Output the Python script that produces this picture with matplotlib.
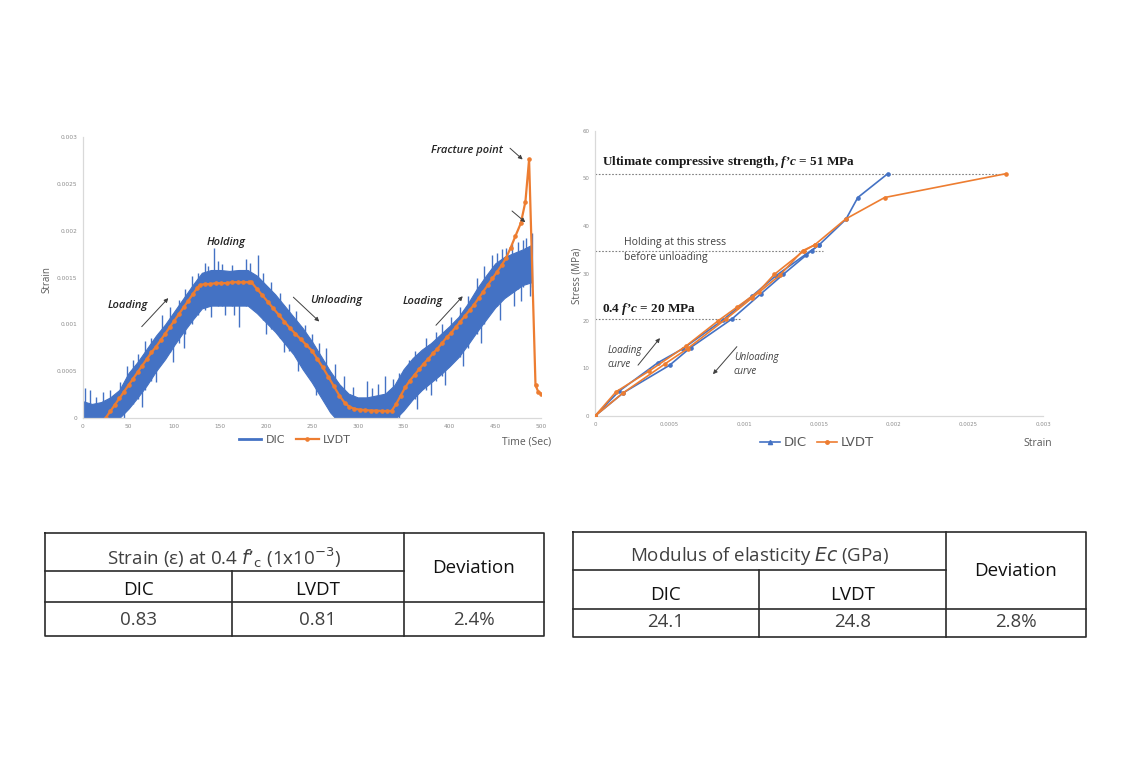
import numpy as np
import matplotlib
matplotlib.use("Agg")
import matplotlib.pyplot as plt
from matplotlib.lines import Line2D

plt.rcParams['mathtext.fontset'] = 'custom'
plt.rcParams['mathtext.rm'] = 'Liberation Serif:bold'
plt.rcParams['mathtext.it'] = 'Liberation Serif:italic:bold'

W, H = 1122, 774
BLUE = '#4472C4'
ORANGE = '#ED7D31'

# ---------------- left chart: strain vs time ----------------
# LVDT readings (time in s, strain in 1e-3)
lvdt_t = [25, 30, 35, 40, 45, 50, 55, 60, 65, 70, 75, 80, 85, 90, 95, 100, 105, 110, 115, 120, 125, 128,
          133, 139, 145, 151, 157, 163, 169, 175, 181, 184,
          190, 196, 202, 208, 214, 220, 226, 232, 238, 244, 250, 256, 262, 268, 274, 280, 286, 291,
          296, 302, 308, 314, 320, 326, 332, 337,
          342, 347, 352, 357, 362, 367, 372, 377, 382, 387, 392, 397, 402, 407, 412, 417, 422, 427,
          432, 437, 442, 447, 452, 457, 462, 467, 472, 478, 483, 487,
          494, 497, 500, 504]
lvdt_s = [0.00, 0.07, 0.14, 0.21, 0.28, 0.35, 0.42, 0.49, 0.56, 0.63, 0.70, 0.76, 0.83, 0.90, 0.97, 1.04, 1.11, 1.18, 1.25, 1.32, 1.39, 1.42,
          1.43, 1.43, 1.44, 1.44, 1.44, 1.45, 1.45, 1.45, 1.45, 1.45,
          1.38, 1.31, 1.24, 1.17, 1.10, 1.03, 0.96, 0.90, 0.84, 0.78, 0.72, 0.63, 0.54, 0.44, 0.34, 0.24, 0.16, 0.12,
          0.10, 0.09, 0.085, 0.08, 0.08, 0.075, 0.075, 0.075,
          0.15, 0.24, 0.33, 0.40, 0.46, 0.52, 0.58, 0.63, 0.69, 0.74, 0.80, 0.86, 0.91, 0.97, 1.03, 1.09, 1.15, 1.21,
          1.28, 1.35, 1.42, 1.49, 1.56, 1.63, 1.71, 1.82, 1.94, 2.08, 2.31, 2.76,
          0.35, 0.28, 0.26, 0.25]

# DIC noisy band: envelope read every 10 s (strain in 1e-3)
dic_t = [0, 10, 20, 30, 40, 50, 60, 70, 80, 90, 100, 110, 120, 130, 140, 150, 160, 170, 180,
         190, 200, 210, 220, 230, 240, 250, 260, 270, 280, 290, 300, 310, 320, 330, 340,
         350, 360, 370, 380, 390, 400, 410, 420, 430, 440, 450, 460, 470, 480, 490]
dic_lo = [-0.05, -0.05, -0.05, -0.05, 0.00, 0.10, 0.22, 0.35, 0.50, 0.63, 0.78, 0.92, 1.05, 1.17, 1.20, 1.20, 1.20, 1.20, 1.20,
          1.12, 1.02, 0.92, 0.80, 0.68, 0.52, 0.38, 0.22, 0.06, -0.05, -0.05, -0.05, -0.05, -0.05, -0.05, -0.02,
          0.08, 0.20, 0.30, 0.38, 0.46, 0.55, 0.65, 0.78, 0.92, 1.05, 1.18, 1.28, 1.35, 1.42, 1.45]
dic_hi = [0.18, 0.15, 0.17, 0.22, 0.30, 0.48, 0.60, 0.74, 0.88, 1.00, 1.14, 1.28, 1.42, 1.55, 1.58, 1.58, 1.57, 1.58, 1.58,
          1.52, 1.42, 1.32, 1.20, 1.08, 0.96, 0.82, 0.66, 0.50, 0.36, 0.26, 0.22, 0.22, 0.24, 0.26, 0.35,
          0.52, 0.64, 0.73, 0.80, 0.89, 0.98, 1.08, 1.22, 1.38, 1.52, 1.65, 1.72, 1.76, 1.80, 1.85]
# single DIC spikes sticking out of the band (time, low, high)
spike_t = [2, 8, 15, 22, 30, 41, 45, 48, 55, 60, 65, 68, 75, 80, 87, 95, 99, 105, 110, 112, 119, 126,
           133, 137, 140, 143, 148, 152, 155, 163, 165, 171, 178, 183, 191, 197, 200, 205, 215, 220,
           225, 233, 235, 242, 250, 255, 258, 265, 275, 285, 295, 310, 316, 322, 330, 338, 345, 356,
           362, 365, 375, 380, 385, 392, 395, 402, 412, 415, 420, 430, 435, 438, 446, 452, 455, 457,
           462, 468, 470, 475, 478, 480, 484, 488, 490]
spike_lo = [0.0, 0.0, 0.0, 0.0, 0.0, 0.05, -0.05, 0.10, 0.15, 0.20, 0.12, 0.30, 0.40, 0.38, 0.60, 0.70, 0.60, 0.80, 0.75, 0.90, 1.00, 1.10,
            1.15, 1.20, 1.08, 1.25, 1.20, 1.20, 1.10, 1.20, 1.10, 0.97, 1.20, 1.20, 1.15, 1.05, 0.90, 0.95, 0.85, 0.70,
            0.72, 0.65, 0.50, 0.60, 0.40, 0.25, 0.30, 0.30, 0.0, 0.0, 0.0, 0.0, 0.0, 0.0, 0.0, 0.0, 0.0, 0.20,
            0.20, 0.10, 0.30, 0.25, 0.40, 0.45, 0.35, 0.60, 0.65, 0.55, 0.75, 0.90, 0.80, 1.00, 1.20, 1.20, 1.05, 1.30,
            1.30, 1.35, 1.20, 1.38, 1.25, 1.40, 1.45, 1.30, 1.40]
spike_hi = [0.32, 0.30, 0.22, 0.28, 0.30, 0.38, 0.20, 0.55, 0.62, 0.68, 0.50, 0.82, 0.85, 0.80, 1.10, 1.18, 1.00, 1.26, 1.10, 1.38, 1.52, 1.55,
            1.66, 1.62, 1.40, 1.82, 1.68, 1.64, 1.40, 1.63, 1.40, 1.50, 1.70, 1.65, 1.74, 1.55, 1.20, 1.45, 1.33, 1.00,
            1.22, 1.14, 0.90, 0.99, 0.90, 0.60, 0.80, 0.75, 0.58, 0.45, 0.33, 0.40, 0.32, 0.36, 0.45, 0.42, 0.48, 0.62,
            0.72, 0.50, 0.85, 0.60, 0.92, 1.00, 0.70, 1.08, 1.18, 0.90, 1.30, 1.50, 1.10, 1.62, 1.74, 1.76, 1.40, 1.80,
            1.82, 1.86, 1.50, 1.88, 1.60, 1.90, 1.92, 1.60, 1.98]

time_ticks = list(range(0, 501, 50))
strain_ticks = [0, 0.0005, 0.001, 0.0015, 0.002, 0.0025, 0.003]
strain_labels = ['0', '0.0005', '0.001', '0.0015', '0.002', '0.0025', '0.003']

# ---------------- right chart: stress vs strain ----------------
dic_load_x = [0, 0.00019, 0.0005, 0.00064, 0.00092, 0.00111, 0.00126, 0.00145, 0.0015, 0.00168, 0.00176, 0.00196]
dic_load_y = [0, 4.9, 10.7, 14.4, 20.5, 25.7, 29.8, 34.8, 36.0, 41.4, 46.0, 51.0]
dic_unload_x = [0.0015, 0.00141, 0.00121, 0.00105, 0.00086, 0.00059, 0.00042, 0.00016, 0]
dic_unload_y = [36.0, 34.0, 29.5, 25.2, 20.3, 14.2, 11.2, 5.2, 0]
lvdt_load_x = [0, 0.000141, 0.000364, 0.000608, 0.000827, 0.00095, 0.001095, 0.0012, 0.0014, 0.00147, 0.00168, 0.00194, 0.00275]
lvdt_load_y = [0, 5.1, 9.5, 14.7, 20.1, 22.9, 26.2, 29.8, 34.8, 36.0, 41.5, 46.0, 51.0]
lvdt_unload_x = [0.00147, 0.00139, 0.00124, 0.00105, 0.00088, 0.00062, 0.00047, 0.000186, 0]
lvdt_unload_y = [36.0, 34.8, 29.7, 24.8, 20.5, 14.2, 11.0, 4.8, 0]

stress_ticks = [0, 10, 20, 30, 40, 50, 60]
strain2_ticks = [0, 0.0005, 0.001, 0.0015, 0.002, 0.0025, 0.003]
strain2_labels = ['0', '0.0005', '0.001', '0.0015', '0.002', '0.0025', '0.003']

# ---------------- tables ----------------
t1_header = "Strain (ε) at 0.4 $f$’${}_{\\mathrm{c}}$ (1x10$^{-3}$)"
t2_header = "Modulus of elasticity $Ec$ (GPa)"
sub_cols = ['DIC', 'LVDT']
t1_vals = ['0.83', '0.81', '2.4%']
t2_vals = ['24.1', '24.8', '2.8%']

fig = plt.figure(figsize=(W / 100, H / 100), dpi=100)
fig.patch.set_facecolor('white')

# overlay axes in pixel coordinates (y down) for tables and loose labels
ov = fig.add_axes([0, 0, 1, 1])
ov.set_xlim(0, W)
ov.set_ylim(H, 0)
ov.axis('off')
ov.patch.set_visible(False)


def px_axes(x0, top, x1, bottom):
    return fig.add_axes([x0 / W, 1 - bottom / H, (x1 - x0) / W, (bottom - top) / H])


def style_axes(ax, size):
    for s in ['top', 'right']:
        ax.spines[s].set_visible(False)
    for s in ['left', 'bottom']:
        ax.spines[s].set_color('#d9d9d9')
        ax.spines[s].set_linewidth(0.9)
    ax.tick_params(length=0, labelsize=size, labelcolor='#8c8c8c', pad=4)
    ax.patch.set_visible(False)


txt_font = dict(family='Open Sans', color='#262626')

# left chart
ax1 = px_axes(82.7, 137, 541, 418)
ax1.fill_between(dic_t, np.array(dic_lo) * 1e-3, np.array(dic_hi) * 1e-3, color=BLUE, lw=0.8, edgecolor=BLUE)
ax1.vlines(spike_t, np.array(spike_lo) * 1e-3, np.array(spike_hi) * 1e-3, color=BLUE, lw=1.0)
ax1.plot(lvdt_t, np.array(lvdt_s) * 1e-3, color=ORANGE, lw=1.6, marker='o', ms=2.3)
ax1.set_xlim(0, 500)
ax1.set_ylim(0, 0.003)
ax1.set_xticks(time_ticks)
ax1.set_yticks(strain_ticks)
ax1.set_yticklabels(strain_labels)
style_axes(ax1, 4.2)

lab = dict(fontsize=8, style='italic', weight='semibold', ha='center', va='center', **txt_font)
ax1.text(49.4, 0.0012, 'Loading', **lab)
ax1.text(156.3, 0.00187, 'Holding', **lab)
ax1.text(276.4, 0.00125, 'Unloading', **lab)
ax1.text(371.3, 0.00124, 'Loading', **lab)
ax1.text(419.3, 0.00286, 'Fracture point', **lab)
arr = dict(arrowstyle='-|>', color='#404040', lw=0.7, mutation_scale=6, shrinkA=0, shrinkB=0)
for (x0, y0), (x1, y1) in [((64.4, 0.000975), (93.4, 0.00128)),
                           ((229.8, 0.00129), (258.1, 0.00103)),
                           ((385.4, 0.00099), (414.6, 0.0013)),
                           ((466.2, 0.00288), (480.0, 0.00276)),
                           ((468.4, 0.00221), (482.9, 0.00209))]:
    ax1.annotate('', xy=(x1, y1), xytext=(x0, y0), arrowprops=arr)

fig.legend(handles=[Line2D([], [], color=BLUE, lw=2),
                    Line2D([], [], color=ORANGE, lw=1.6, marker='o', ms=2.3)],
           labels=['DIC', 'LVDT'], loc='center', bbox_to_anchor=(295 / W, 1 - 440 / H),
           ncol=2, frameon=False, fontsize=8, handlelength=2, columnspacing=1.0,
           handletextpad=0.4, labelcolor='#595959')

ov.text(47, 280, 'Strain', rotation=90, ha='center', va='center', fontsize=7, color='#595959', family='Open Sans')
ov.text(527, 442, 'Time (Sec)', ha='center', va='center', fontsize=7.5, color='#595959', family='Open Sans')

# right chart
ax2 = px_axes(595, 131, 1043, 416)
ax2.plot(dic_load_x, dic_load_y, color=BLUE, lw=1.2, marker='o', ms=2.3, zorder=3)
ax2.plot(dic_unload_x, dic_unload_y, color=BLUE, lw=1.2, marker='o', ms=2.3, zorder=3)
ax2.plot(lvdt_load_x, lvdt_load_y, color=ORANGE, lw=1.2, marker='o', ms=2.3, zorder=3)
ax2.plot(lvdt_unload_x, lvdt_unload_y, color=ORANGE, lw=1.2, marker='o', ms=2.3, zorder=3)
dots = dict(colors='#7f7f7f', linestyles=(0, (1.5, 1.5)), lw=0.8)
ax2.hlines(51, 0, 0.00275, **dots)
ax2.hlines(34.8, 0, 0.00153, **dots)
ax2.hlines(20.4, 0, 0.00098, **dots)
ax2.set_xlim(0, 0.003)
ax2.set_ylim(0, 60)
ax2.set_xticks(strain2_ticks)
ax2.set_xticklabels(strain2_labels)
ax2.set_yticks(stress_ticks)
style_axes(ax2, 3.9)

serif = dict(family='Liberation Serif', weight='bold', fontsize=9.5, color='#1a1a1a',
             ha='left', va='center', math_fontfamily='custom')
ax2.text(0.000047, 53.5, "Ultimate compressive strength, $f$’$c$ = 51 MPa", **serif)
ax2.text(0.00005, 22.5, "0.4 $f$’$c$ = 20 MPa", **serif)
ax2.text(0.000194, 34.9, 'Holding at this stress\nbefore unloading', fontsize=7.5, color='#404040',
         family='Open Sans', ha='left', va='center', linespacing=1.45)
curve = dict(fontsize=7, style='italic', color='#404040', family='Open Sans', ha='left', va='center', linespacing=1.4)
ax2.text(0.000087, 12.4, 'Loading\ncurve', **curve)
ax2.text(0.00093, 10.9, 'Unloading\ncurve', **curve)
ax2.annotate('', xy=(0.000435, 16.4), xytext=(0.000288, 10.7), arrowprops=arr)
ax2.annotate('', xy=(0.00079, 8.8), xytext=(0.00095, 14.6), arrowprops=arr)

fig.legend(handles=[Line2D([], [], color=BLUE, lw=1.2, marker='^', ms=3),
                    Line2D([], [], color=ORANGE, lw=1.2, marker='o', ms=2.5)],
           labels=['DIC', 'LVDT'], loc='center', bbox_to_anchor=(817 / W, 1 - 443 / H),
           ncol=2, frameon=False, fontsize=9.5, handlelength=1.5, columnspacing=0.8,
           handletextpad=0.3, labelcolor='#595959')
ov.text(577, 276, 'Stress (MPa)', rotation=90, ha='center', va='center', fontsize=7, color='#595959', family='Open Sans')
ov.text(1038, 443, 'Strain', ha='center', va='center', fontsize=7.5, color='#595959', family='Open Sans')


# tables drawn in pixel space
def draw_table(xs, ys, header, vals, hy, sy, vy, dy):
    x0, x1, x2, x3 = xs
    y0, y1, y2, y3 = ys
    lk = dict(color='#2b2b2b', lw=1.2)
    ov.plot([x0, x3, x3, x0, x0], [y0, y0, y3, y3, y0], **lk)
    ov.plot([x0, x2], [y1, y1], **lk)
    ov.plot([x0, x3], [y2, y2], **lk)
    ov.plot([x1, x1], [y1, y3], **lk)
    ov.plot([x2, x2], [y0, y3], **lk)
    light = dict(family='Open Sans', fontsize=13.5, color='#404040', ha='center', va='center',
                 math_fontfamily='dejavusans')
    dark = dict(family='Open Sans', fontsize=13.5, color='#111111', ha='center', va='center')
    ov.text((x0 + x2) / 2, hy, header, **light)
    ov.text((x0 + x1) / 2, sy, sub_cols[0], **dark)
    ov.text((x1 + x2) / 2, sy, sub_cols[1], **dark)
    ov.text((x2 + x3) / 2, dy, 'Deviation', **dark)
    ov.text((x0 + x1) / 2, vy, vals[0], **light)
    ov.text((x1 + x2) / 2, vy, vals[1], **light)
    ov.text((x2 + x3) / 2, vy, vals[2], **light)


draw_table((45, 232, 404, 544), (532.7, 571, 602, 636), t1_header, t1_vals, 558, 590, 620, 568)
draw_table((573, 759, 946, 1086), (532, 570, 609, 637), t2_header, t2_vals, 556, 595, 622, 571)

fig.savefig('out.png', dpi=100, facecolor='white')
